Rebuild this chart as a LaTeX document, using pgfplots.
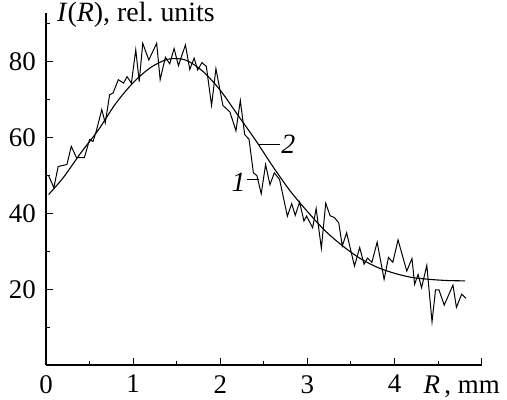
\documentclass[border=0pt]{standalone}
\usepackage{fontspec}
\setmainfont{Liberation Serif}
\usepackage{pgfplots}
\pgfplotsset{compat=1.18}
\begin{document}
\begin{tikzpicture}
\useasboundingbox (-46bp,-35bp) rectangle (461bp,365bp);
\begin{axis}[
  scale only axis,
  width=435.7bp, height=352bp,
  xmin=0, xmax=5, ymin=0, ymax=92.9,
  axis x line=bottom, axis y line=left,
  axis line style={-, line width=1.4pt},
  tick align=inside,
  tick style={line width=1pt, black},
  major tick length=7bp, minor tick length=4bp,
  xtick={0,1,2,3,4,5}, xticklabels={0,1,2,3,4,{}},
  minor xtick={0.5,1.5,2.5,3.5,4.5},
  ytick={20,40,60,80},
  minor ytick={10,30,50,70,90},
  /pgf/number format/assume math mode=true,
  tick label style={font=\fontsize{27}{27}\selectfont, inner sep=0pt},
  xticklabel style={yshift=-10bp},
  yticklabel style={xshift=-10bp},
  clip=false,
]
\addplot[black, line width=1pt] coordinates {
(0.03,50.0) (0.09,46.8) (0.14,52.4) (0.24,52.9) (0.29,57.7) (0.35,54.7)
(0.44,54.7) (0.50,59.5) (0.54,59.0) (0.58,62.0) (0.64,67.4) (0.68,63.9)
(0.73,71.3) (0.77,71.8) (0.83,75.3) (0.89,74.4) (0.93,76.1) (0.98,74.4)
(1.03,83.2) (1.07,74.8) (1.11,84.9) (1.18,80.5) (1.27,84.9) (1.31,75.3)
(1.37,81.2) (1.42,79.5) (1.47,83.5) (1.52,79.0) (1.60,84.5) (1.65,78.0)
(1.70,81.0) (1.74,77.9) (1.79,79.8) (1.84,78.8) (1.90,68.5) (1.95,78.2)
(2.03,68.5) (2.11,66.8) (2.18,61.8) (2.23,69.8) (2.28,60.8) (2.33,59.6)
(2.38,50.7) (2.42,50.0) (2.47,45.2) (2.52,52.9) (2.57,47.6) (2.62,50.7)
(2.68,49.0) (2.77,39.3) (2.82,42.6) (2.86,39.5) (2.91,43.0) (2.96,38.0)
(2.99,39.3) (3.02,38.0) (3.06,36.2) (3.10,41.3) (3.16,30.8) (3.21,42.7)
(3.26,39.4) (3.31,38.9) (3.36,37.5) (3.40,31.4) (3.45,34.9) (3.54,26.1)
(3.60,31.0) (3.65,26.6) (3.69,28.2) (3.74,27.1) (3.80,32.4) (3.88,22.6)
(3.93,28.4) (3.98,27.1) (4.04,33.0) (4.14,24.8) (4.20,28.1) (4.23,21.3)
(4.27,23.9) (4.31,20.4) (4.37,26.3) (4.43,11.4) (4.47,19.8) (4.51,19.8)
(4.57,15.8) (4.67,21.1) (4.71,15.2) (4.77,18.7) (4.82,17.6)
};
\addplot[black, line width=1.1pt, smooth] coordinates {
(0.03,45.0) (0.2,49.5) (0.4,56) (0.6,62) (0.8,69) (1.0,74.5) (1.2,78.5)
(1.4,80.7) (1.6,80.5) (1.8,77.5) (2.0,72.5) (2.2,66) (2.4,59.5) (2.6,52.5)
(2.8,46) (3.0,40.5) (3.2,35.5) (3.4,31.5) (3.6,28.2) (3.8,25.8) (4.0,24.2)
(4.2,23.1) (4.4,22.6) (4.6,22.3) (4.81,22.2)
};
\draw[line width=1pt] (axis cs:2.45,58.2) -- (axis cs:2.68,58.2);
\node[font=\fontsize{28}{28}\selectfont\itshape, inner sep=0pt] at (axis cs:2.78,58.2) {2};
\draw[line width=1pt] (axis cs:2.31,48.9) -- (axis cs:2.45,48.9);
\node[font=\fontsize{28}{28}\selectfont\itshape, inner sep=0pt] at (axis cs:2.21,48.3) {1};
\node[anchor=north west, inner sep=0pt, xshift=11bp, yshift=11bp, font=\fontsize{28}{28}\selectfont] at (rel axis cs:0,1) {\textit{I}(\textit{R}), rel.\ units};
\node[anchor=north west, inner sep=0pt, yshift=-11bp, font=\fontsize{27}{27}\selectfont] at (axis cs:4.33,0) {\textit{R}\,, mm};
\end{axis}
\end{tikzpicture}
\end{document}
